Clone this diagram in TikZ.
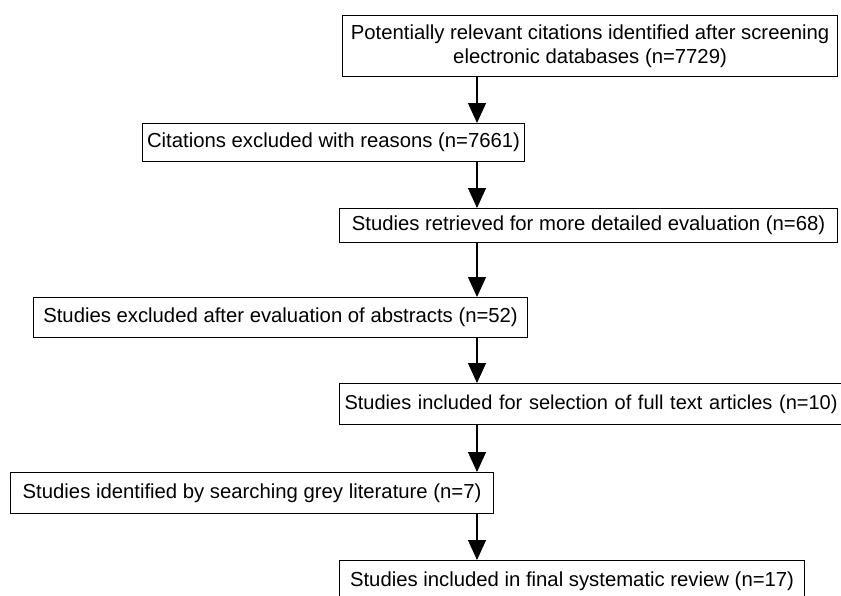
\documentclass[tikz,border=0pt]{standalone}
\usepackage{fontspec}
\setmainfont{Liberation Sans}
\usetikzlibrary{arrows.meta}
\begin{document}
\begin{tikzpicture}[x=1pt,y=-1pt,
  box/.style={draw=black, line width=1.1pt, inner sep=0pt, anchor=north west, align=center,
    font=\fontsize{20.3}{24}\selectfont},
  arr/.style={line width=1.1pt, -{Triangle[width=18pt,length=20pt]}}]
\useasboundingbox (0,0) rectangle (841,595);
\clip (0,0) rectangle (841,595);
\coordinate (ax) at (477,0);
\node[box, minimum width=495pt, minimum height=61pt] (b1) at (342,15)
  {Potentially relevant citations identified after screening\\electronic databases (n=7729)};
\node[box, minimum width=382pt, minimum height=38pt] (b2) at (142,123)
  {Citations excluded with reasons (n=7661)};
\node[box, minimum width=498pt, minimum height=34pt] (b3) at (339,208)
  {Studies retrieved for more detailed evaluation (n=68)};
\node[box, minimum width=494pt, minimum height=40pt] (b4) at (33,297)
  {Studies excluded after evaluation of abstracts (n=52)};
\node[box, inner xsep=5pt, text width=540pt, align=left, minimum height=41pt,
  font=\fontsize{20}{24}\selectfont] (b5) at (339,383)
  {Studies included for selection of full text articles (n=10)};
\node[box, minimum width=483pt, minimum height=41pt] (b6) at (10,472)
  {Studies identified by searching grey literature (n=7)};
\node[box, minimum width=465pt, minimum height=42pt] (b7) at (339,560)
  {Studies included in final systematic review (n=17)};
\draw[arr] (b1.south -| ax) -- (b2.north -| ax);
\draw[arr] (b2.south -| ax) -- (b3.north -| ax);
\draw[arr] (b3.south -| ax) -- (b4.north -| ax);
\draw[arr] (b4.south -| ax) -- (b5.north -| ax);
\draw[arr] (b5.south -| ax) -- (b6.north -| ax);
\draw[arr] (b6.south -| ax) -- (b7.north -| ax);
\end{tikzpicture}
\end{document}
